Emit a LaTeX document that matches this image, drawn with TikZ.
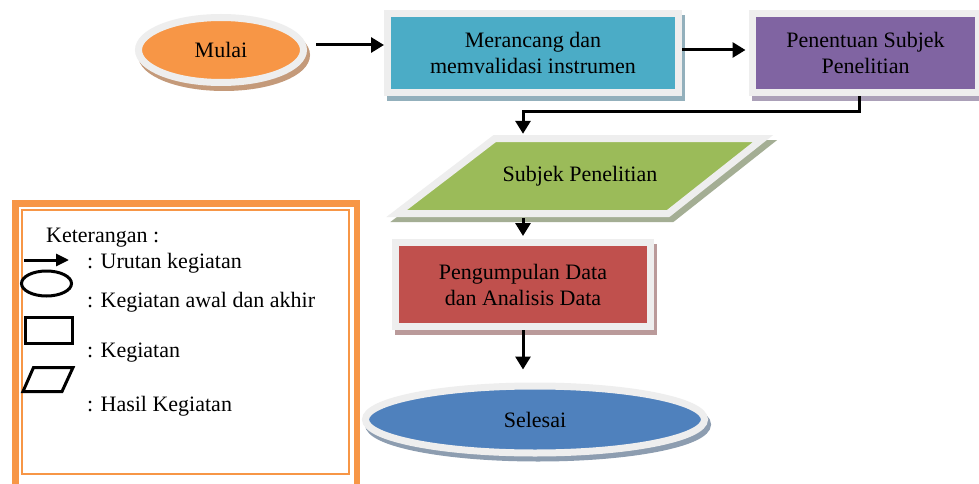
\documentclass[tikz,border=0pt]{standalone}
\usepackage{fontspec}
\setmainfont{Liberation Serif}
\usetikzlibrary{arrows.meta,calc,shapes.geometric}
\definecolor{framegray}{HTML}{EEEEEE}
\definecolor{cOrange}{HTML}{F79646}
\definecolor{sOrange}{HTML}{C49A7A}
\definecolor{cTeal}{HTML}{4BACC6}
\definecolor{sTeal}{HTML}{93B0BC}
\definecolor{cPurple}{HTML}{8064A2}
\definecolor{sPurple}{HTML}{ABA0B8}
\definecolor{cGreen}{HTML}{9BBB59}
\definecolor{sGreen}{HTML}{A4AE94}
\definecolor{cRed}{HTML}{C0504D}
\definecolor{sRed}{HTML}{BA9A9A}
\definecolor{cBlue}{HTML}{4F81BD}
\definecolor{sBlue}{HTML}{8D9DB0}
\definecolor{lgOrange}{HTML}{F79646}
\begin{document}
\begin{tikzpicture}[x=1pt,y=-1pt,
  txt/.style={font=\fontsize{22}{26}\selectfont, align=center, text=black},
  base/.style={txt, inner sep=0pt, line width=7pt, draw=framegray},
  shad/.style={preaction={fill=#1, draw=#1, line width=7pt, transform canvas={xshift=3pt,yshift=-5pt}}},
  boxn/.style={base, rectangle},
  ovaln/.style={base, ellipse},
  arr/.style={line width=3pt, -{Triangle[length=13pt,width=15pt]}},
  lgtxt/.style={font=\fontsize{22}{25}\selectfont, anchor=base west, inner sep=0pt},
  lgsym/.style={draw=black, line width=3pt},
]
\useasboundingbox (0,0) rectangle (979,484);
\fill[white] (0,0) rectangle (979,484);

% legend frame
\draw[lgOrange, line width=6.5pt] (15.25,203.25) rectangle (356.75,490);
\draw[lgOrange, line width=2pt] (22,210) rectangle (349,474);
\node[lgtxt] (ket) at (46,242) {Keterangan :};
\node[lgtxt] (l1) at (87,268) {: Urutan kegiatan};
\node[lgtxt] (l2) at (87,307) {: Kegiatan awal dan akhir};
\node[lgtxt] (l3) at (87,357) {: Kegiatan};
\node[lgtxt] (l4) at (87,411) {: Hasil Kegiatan};
\coordinate (la1) at (24,260);
\coordinate (la2) at (69,260);
\draw[line width=3pt, -{Triangle[length=13pt,width=12pt]}] (la1) -- (la2);
\node[lgsym, ellipse, inner sep=0pt, minimum width=50pt, minimum height=25pt] (lell) at (46.5,283.5) {};
\node[lgsym, rectangle, inner sep=0pt, minimum width=47pt, minimum height=26pt] (lrect) at (49,330) {};
\draw[lgsym, line join=miter] (33.5,367.5) -- (73,367.5) -- (62,391.5) -- (23,391.5) -- cycle;

% main nodes
\node[ovaln, fill=cOrange, shad=sOrange, minimum width=165pt, minimum height=65pt] (mulai) at (221,50) {Mulai};
\node[boxn, fill=cTeal, shad=sTeal, minimum width=291pt, minimum height=79pt] (merancang) at (533,53) {Merancang dan\\memvalidasi instrumen};
\node[boxn, fill=cPurple, shad=sPurple, minimum width=226pt, minimum height=79pt] (penentuan) at (865.5,53) {Penentuan Subjek\\Penelitian};
\draw[draw=framegray, line width=7pt, fill=cGreen, line join=miter,
      preaction={fill=sGreen, draw=sGreen, line width=7pt, transform canvas={xshift=4pt,yshift=-5pt}}]
  (494.8,138.5) -- (763.1,138.5) -- (668.2,213.5) -- (396.7,213.5) -- cycle;
\node[txt, inner sep=0pt, minimum width=260pt, minimum height=84pt] (subjek) at (580,176) {Subjek Penelitian};
\node[boxn, fill=cRed, shad=sRed, minimum width=255pt, minimum height=84pt] (pengumpulan) at (523,284.5) {Pengumpulan Data\\dan Analisis Data};
\node[ovaln, fill=cBlue, shad=sBlue, minimum width=339pt, minimum height=67pt] (selesai) at (535,419.5) {Selesai};

% connectors
\coordinate (bend) at (523,112);
\draw[arr, shorten <=9pt] ([yshift=5pt]mulai.east) -- ([yshift=8pt]merancang.west);
\draw[arr, shorten >=3.5pt] ([yshift=3pt]merancang.east) -- ([yshift=3pt]penentuan.west);
\draw[arr, line join=miter] ([xshift=-6pt]penentuan.south) |- (bend) -- (bend |- subjek.north);
\draw[arr, shorten >=3pt] (subjek.south -| bend) -- (pengumpulan.north -| bend);
\draw[arr, shorten >=13pt] (pengumpulan.south) -- (pengumpulan.south |- selesai.north);
\end{tikzpicture}
\end{document}
